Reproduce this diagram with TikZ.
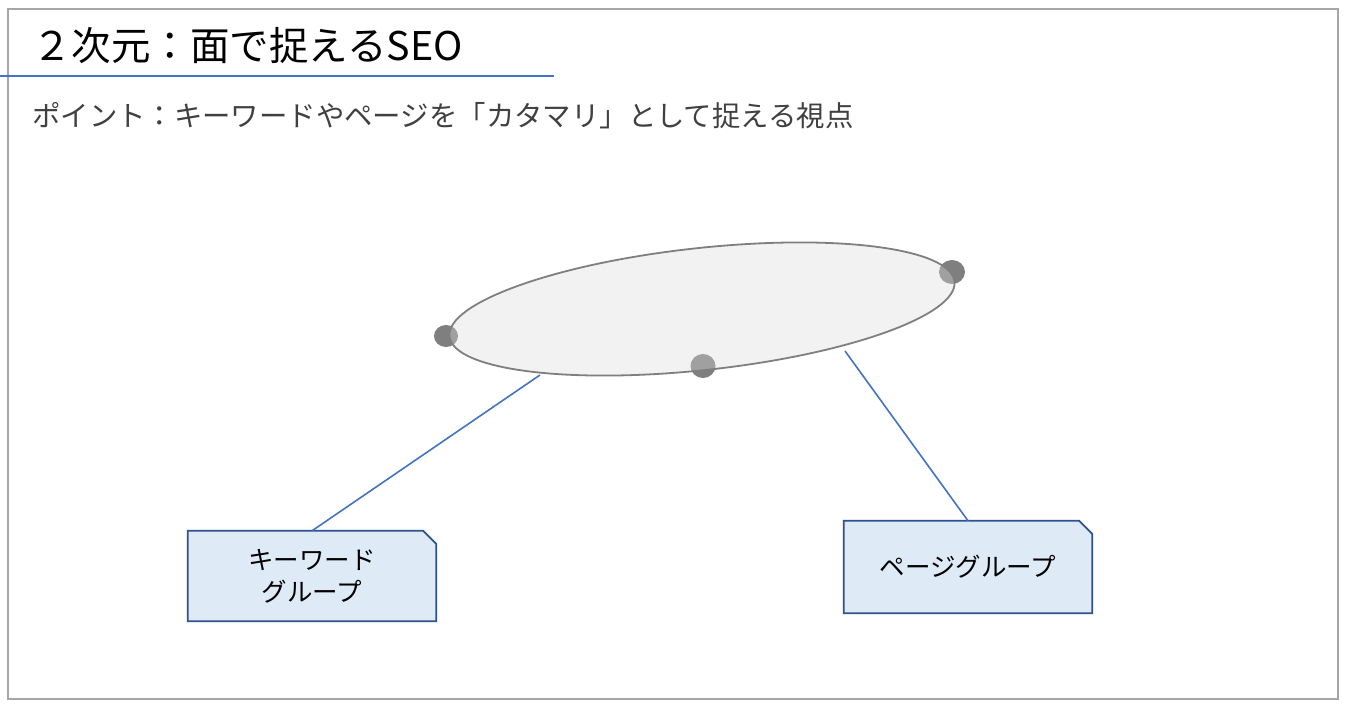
\documentclass[tikz,border=0pt]{standalone}
\usepackage{fontspec}
\setmainfont{Noto Sans CJK JP}
\newfontfamily\jp{Noto Sans CJK JP}
\definecolor{frame}{HTML}{A6A6A6}
\definecolor{accent}{HTML}{4472C4}
\definecolor{boxfill}{HTML}{DEEBF7}
\definecolor{boxline}{HTML}{2F528F}
\definecolor{dotgray}{HTML}{7F7F7F}
\definecolor{ellfill}{HTML}{DBDBDB}
\definecolor{subtext}{HTML}{404040}
\tikzset{
  conn/.style={draw=accent, line width=1.6pt},
  groupbox/.style={minimum width=248pt, inner sep=0pt, font=\jp\fontsize{25.5}{32}\selectfont, align=center, text=black},
  snip/.style={draw=boxline, fill=boxfill, line width=1.8pt, line join=miter},
  dotnode/.style={fill=dotgray, draw=none, ellipse, inner sep=0pt},
}
\usetikzlibrary{shapes.geometric}
\begin{document}
\begin{tikzpicture}[x=1pt,y=-1pt]
\useasboundingbox (0,0) rectangle (1350,718);
\fill[white] (0,0) rectangle (1350,718);
% frame
\draw[frame, line width=2pt] (8,9) rectangle (1338,699);
% title
\node[anchor=base west, inner sep=0pt, font=\jp\fontsize{39.5}{44}\selectfont] (title) at (32,60) {２次元：面で捉えるSEO};
\coordinate (tl0) at (0,76);
\coordinate (tl1) at (554,76);
\draw[accent, line width=1.5pt] (tl0) -- (tl1);
% subtitle
\node[anchor=base west, inner sep=0pt, text=subtext, font=\jp\fontsize{28.4}{32}\selectfont] (sub) at (32,126) {ポイント：キーワードやページを「カタマリ」として捉える視点};
% dots (under the ellipse)
\node[dotnode, minimum width=24pt, minimum height=22pt] (d1) at (446,336) {};
\node[dotnode, minimum width=25pt, minimum height=24pt] (d2) at (703,366) {};
\node[dotnode, minimum width=26pt, minimum height=24pt] (d3) at (952,272) {};
% ellipse
\path[rotate around={6.2:(702,309)}, fill=ellfill, fill opacity=0.36] (702,309) ellipse [x radius=254, y radius=61];
\draw[rotate around={6.2:(702,309)}, draw=dotgray, line width=1.8pt] (702,309) ellipse [x radius=254, y radius=61];
\coordinate (e1) at (540,375);
\coordinate (e2) at (845,351);
% boxes
\node[groupbox, minimum height=90pt] (kw) at (312,576) {キーワード\\グループ};
\draw[snip] (kw.north west) -- ([xshift=-13pt]kw.north east) -- ([yshift=-13pt]kw.north east) -- (kw.south east) -- (kw.south west) -- cycle;
\node[groupbox, minimum height=90pt] (kw) at (312,576) {キーワード\\グループ};
\node[groupbox, minimum height=92pt] (pg) at (968,567) {ページグループ};
\draw[snip] (pg.north west) -- ([xshift=-13pt]pg.north east) -- ([yshift=-13pt]pg.north east) -- (pg.south east) -- (pg.south west) -- cycle;
\node[groupbox, minimum height=92pt] (pg) at (968,567) {ページグループ};
% connectors
\draw[conn] (e1) -- (kw.north);
\draw[conn] (e2) -- (pg.north);
\end{tikzpicture}
\end{document}
